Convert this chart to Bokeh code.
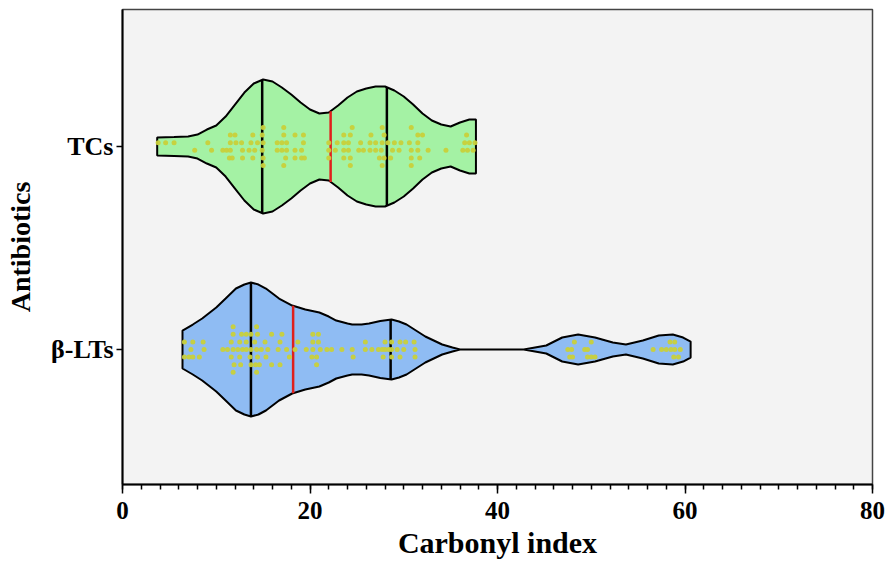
import numpy as np
from bokeh.plotting import figure
from bokeh.models import Range1d, FixedTicker, SingleIntervalTicker
from bokeh.embed import file_html
from bokeh.resources import INLINE

# ---------------- data ----------------
categories = ["β-LTs", "TCs"]
category_pos = [1, 2]
x_ticks_major = 20

# violin outlines: x (carbonyl index) and relative density (half-width)
tcs_profile_x = [3.7, 5.5, 7.0, 8.0, 9.0, 10.0, 11.0, 12.0, 13.0, 14.0, 15.0, 16.0, 17.0,
                 18.0, 19.0, 20.0, 21.0, 22.0, 23.0, 24.0, 25.0, 26.0, 27.0, 28.0, 29.0,
                 30.0, 31.0, 32.0, 33.0, 34.0, 35.0, 36.0, 37.0, 37.7]
tcs_profile_d = [9, 9.5, 10, 12, 17, 21, 30, 42, 54, 63, 67, 65, 59,
                 52, 44, 37, 33, 34, 41, 49, 55, 58, 60, 60, 56,
                 50, 42, 33, 26, 22, 20, 24, 27, 27]

blt_profile_x = [6.4, 7.5, 8.5, 10.0, 11.0, 12.1, 13.0, 13.7, 14.5, 15.3, 16.0, 16.7, 18.1,
                 19.5, 21.0, 22.0, 22.8, 24.0, 24.5, 25.5, 26.3, 27.5, 28.7, 29.5, 30.3,
                 31.3, 32.3, 33.2, 34.1, 35.2, 36.0, 42.8, 44.0, 45.2, 46.9, 48.6, 50.4,
                 52.3, 53.7, 55.5, 57.2, 58.7, 59.8, 60.6]
blt_profile_d = [19, 25, 31, 42, 51, 61, 65, 67, 65, 61, 56, 51, 44,
                 40, 37, 33, 29, 26, 25, 25, 26, 28.5, 30, 28, 25,
                 19, 13, 9, 5, 2, 0, 0, 2, 4, 12, 15, 12,
                 7, 5, 9, 14, 15, 12, 8]

# quartiles: Q1, median, Q3
tcs_quartiles = [14.9, 22.2, 28.2]
blt_quartiles = [13.7, 18.2, 28.6]

# individual points, by swarm row
tcs_rows = [-2.5, -1.5, -0.5, 0.5, 1.5, 2.5]
tcs_row_a = [15.0, 17.2, 24.3, 27.7, 30.8]
tcs_row_b = [11.4, 11.7, 12.8, 13.9, 15.0, 17.4, 18.4, 19.1, 19.4, 22.0, 23.6, 24.3,
             27.4, 27.9, 28.6, 30.8, 31.7]
tcs_row_c = [7.7, 9.5, 10.7, 11.1, 11.5, 12.8, 13.5, 14.1, 14.9, 16.5, 17.0, 17.5, 18.4,
             19.1, 22.0, 22.7, 23.6, 24.1, 25.2, 25.7, 26.4, 27.0, 27.6, 28.8, 29.5,
             30.8, 31.5, 32.6, 34.5, 36.3, 36.8, 37.4]
tcs_row_d = [3.8, 4.6, 5.5, 9.1, 11.5, 12.1, 12.7, 13.7, 14.4, 15.0, 16.5, 17.0, 17.5,
             19.3, 22.0, 22.9, 23.6, 24.1, 25.4, 26.4, 27.0, 27.7, 28.3, 29.0, 29.7,
             30.6, 31.5, 36.5, 37.0, 37.6]
tcs_row_e = [11.5, 12.0, 13.9, 14.9, 17.2, 18.4, 19.3, 23.6, 24.3, 26.5, 27.9, 31.5,
             32.0, 36.7]
tcs_row_f = [15.0, 17.2, 24.5, 27.7, 30.8]

blt_rows = [-3, -2, -1, 0, 1, 2, 3]
blt_row_a = [11.8, 14.3]
blt_row_b = [11.9, 12.6, 13.7, 14.2, 14.6, 15.9, 16.8, 20.7]
blt_row_c = [6.6, 7.1, 7.5, 8.2, 11.6, 12.5, 13.6, 14.4, 15.3, 17.8, 20.2, 20.7, 24.6,
             27.8, 28.7, 29.6, 31.2, 47.7, 48.0, 49.6, 50.0, 50.4, 58.8, 59.3]
blt_row_d = [7.3, 8.7, 10.7, 11.2, 11.8, 12.3, 12.8, 13.2, 13.7, 14.3, 14.8, 15.5, 16.6,
             17.5, 18.4, 19.6, 20.3, 21.1, 21.8, 22.3, 23.4, 24.5, 25.9, 26.6, 27.3,
             27.7, 28.0, 28.4, 28.7, 29.3, 30.0, 31.2, 47.5, 47.9, 49.3, 49.6, 56.6,
             57.5, 58.0, 58.5, 58.9, 59.5]
blt_row_e = [6.6, 7.5, 8.6, 11.6, 12.5, 13.2, 14.1, 15.2, 16.8, 18.7, 20.3, 20.9, 25.9,
             28.0, 28.7, 29.6, 30.2, 31.1, 48.2, 50.0, 58.4, 58.9]
blt_row_f = [11.8, 12.7, 13.2, 13.7, 14.4, 15.9, 17.0, 20.3, 20.9]
blt_row_g = [11.8, 14.3]

# ---------------- styling ----------------
FONT = "Liberation Serif"
MAX_HALF = 0.33        # max half-width of a violin in category units
ROW_STEP = 0.0375      # vertical spacing of swarm rows
TCS_FILL = "#a4f2a4"
BLT_FILL = "#8fbcf3"
DOT_COLOR = "#c9d03a"

p = figure(width=888, height=578, output_backend="svg", toolbar_location=None,
           x_range=Range1d(0, 80), y_range=Range1d(0.335, 2.675),
           min_border_left=122, min_border_right=16, min_border_top=9,
           min_border_bottom=94)
p.background_fill_color = "#f3f3f3"
p.border_fill_color = "white"
p.outline_line_color = "#444444"
p.outline_line_width = 1.5
p.xgrid.visible = False
p.ygrid.visible = False


def draw_violin(center, px, pd, fill, quartiles, rows, row_lists):
    px = np.asarray(px, dtype=float)
    hw = np.asarray(pd, dtype=float) / max(pd) * MAX_HALF
    xs = list(px) + list(px[::-1])
    ys = list(center + hw) + list((center - hw)[::-1])
    p.patch(xs, ys, fill_color=fill, line_color="black", line_width=2)
    for i, q in enumerate(quartiles):
        h = float(np.interp(q, px, hw))
        p.segment(x0=[q], y0=[center - h], x1=[q], y1=[center + h],
                  line_color="#e0201c" if i == 1 else "black", line_width=2.5)
    for r, vals in zip(rows, row_lists):
        p.scatter(vals, [center + r * ROW_STEP] * len(vals), size=5,
                  fill_color=DOT_COLOR, line_color=None, fill_alpha=0.95)


draw_violin(category_pos[1], tcs_profile_x, tcs_profile_d, TCS_FILL, tcs_quartiles,
            tcs_rows, [tcs_row_a, tcs_row_b, tcs_row_c, tcs_row_d, tcs_row_e, tcs_row_f])
draw_violin(category_pos[0], blt_profile_x, blt_profile_d, BLT_FILL, blt_quartiles,
            blt_rows, [blt_row_a, blt_row_b, blt_row_c, blt_row_d, blt_row_e, blt_row_f,
                       blt_row_g])

# x axis
xa = p.xaxis[0]
xa.ticker = SingleIntervalTicker(interval=x_ticks_major, num_minor_ticks=10)
xa.axis_label = "Carbonyl index"
xa.axis_line_color = "black"
xa.axis_line_width = 2
xa.major_tick_in = 0
xa.major_tick_out = 9
xa.minor_tick_in = 0
xa.minor_tick_out = 5
xa.major_tick_line_width = 1.5
xa.minor_tick_line_width = 1.5
xa.major_label_standoff = 8
xa.major_label_text_font = FONT
xa.major_label_text_font_style = "bold"
xa.major_label_text_font_size = "25px"
xa.major_label_text_color = "black"
xa.axis_label_text_font = FONT
xa.axis_label_text_font_style = "bold"
xa.axis_label_text_font_size = "30px"
xa.axis_label_text_color = "black"
xa.axis_label_standoff = 4

# y axis
ya = p.yaxis[0]
ya.ticker = FixedTicker(ticks=category_pos)
ya.major_label_overrides = {pos: lab for pos, lab in zip(category_pos, categories)}
ya.axis_label = "Antibiotics"
ya.axis_line_color = "black"
ya.axis_line_width = 2
ya.major_tick_in = 0
ya.major_tick_out = 6
ya.minor_tick_in = 0
ya.minor_tick_out = 0
ya.major_tick_line_width = 1.5
ya.major_label_standoff = 3
ya.major_label_text_font = FONT
ya.major_label_text_font_style = "bold"
ya.major_label_text_font_size = "26px"
ya.major_label_text_color = "black"
ya.axis_label_text_font = FONT
ya.axis_label_text_font_style = "bold"
ya.axis_label_text_font_size = "28px"
ya.axis_label_text_color = "black"
ya.axis_label_standoff = 12

open("out.html", "w").write(file_html(p, INLINE))
